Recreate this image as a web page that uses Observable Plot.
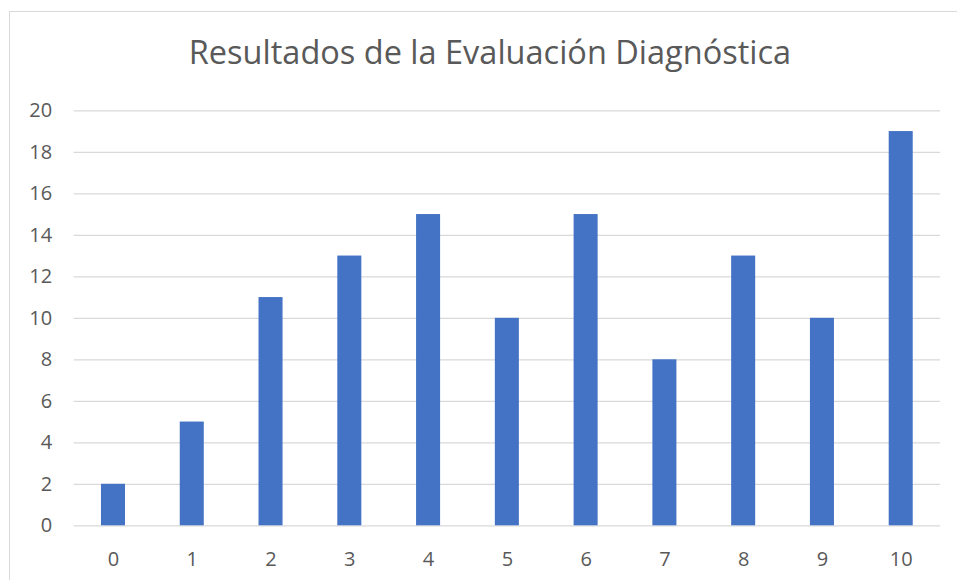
<!DOCTYPE html>
<html>
<head>
<meta charset="utf-8">
<script src="https://cdn.jsdelivr.net/npm/d3@7"></script>
<script src="https://cdn.jsdelivr.net/npm/@observablehq/plot@0.6"></script>
<style>
  html, body { margin: 0; padding: 0; background: #fff; }
  #wrap { position: relative; width: 957px; height: 580px; overflow: hidden; font-family: "Open Sans", sans-serif; }
  #frame { position: absolute; left: 9px; top: 11px; width: 1000px; height: 600px; border: 1.5px solid #d9d9d9; box-sizing: border-box; }
  #title { position: absolute; left: 0; width: 980px; top: 36px; text-align: center; font-size: 32.5px; color: #595959; line-height: 1; white-space: nowrap; }
  #chart { position: absolute; left: 0; top: 0; }
</style>
</head>
<body>
<div id="wrap">
  <div id="frame"></div>
  <div id="title">Resultados de la Evaluación Diagnóstica</div>
  <div id="chart"></div>
</div>
<script>
const categories = ["0","1","2","3","4","5","6","7","8","9","10"];
const values = [2, 5, 11, 13, 15, 10, 15, 8, 13, 10, 19];
const yTicks = [0, 2, 4, 6, 8, 10, 12, 14, 16, 18, 20];

const data = categories.map((c, i) => ({cat: c, val: values[i]}));

const chart = Plot.plot({
  width: 957,
  height: 580,
  marginLeft: 73.6,
  marginRight: 16.9,
  marginTop: 110.3,
  marginBottom: 54.7,
  style: {fontFamily: "'Open Sans', sans-serif", color: "#595959", background: "transparent"},
  x: {domain: categories, round: false, paddingInner: 0.695, paddingOuter: 0.3475, label: null},
  y: {domain: [0, 20], label: null},
  marks: [
    Plot.ruleY(yTicks, {stroke: "#d9d9d9", strokeWidth: 1.3}),
    Plot.barY(data, {x: "cat", y: "val", fill: "#4472C4"}),
    Plot.axisY(yTicks, {tickSize: 0, tickPadding: 22, fontSize: 20, fill: "#595959", label: null}),
    Plot.axisX(categories, {tickSize: 0, tickPadding: 26, fontSize: 20, fill: "#595959", label: null})
  ]
});
document.getElementById("chart").appendChild(chart);
</script>
</body>
</html>
